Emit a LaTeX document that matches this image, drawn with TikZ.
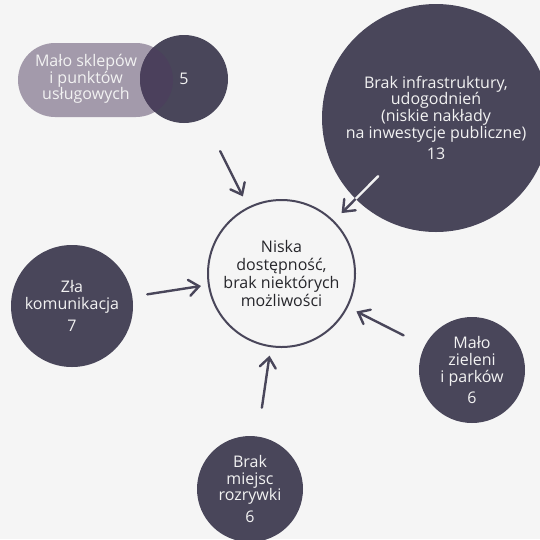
\documentclass[tikz,border=0pt]{standalone}
\usepackage{fontspec}
\setmainfont{Open Sans}
\usetikzlibrary{arrows.meta}
\definecolor{bg}{HTML}{F5F5F5}
\definecolor{dark}{HTML}{49465A}
\definecolor{pillc}{HTML}{A39AAB}
\definecolor{overlap}{HTML}{4B405C}
\definecolor{ink}{HTML}{26262B}
\definecolor{light}{HTML}{F2F2F2}
\begin{document}
\begin{tikzpicture}[x=1pt,y=-1pt,
  bubble/.style={circle, fill=dark, text=light, align=center, inner sep=0pt, font=\fontsize{16}{16.7}\selectfont},
  arr/.style={line width=2.4pt, draw=dark, line cap=round, -{Straight Barb[length=10pt,width=16pt,line cap=round]}},
  pilltext/.style={text=light, align=center, inner sep=0pt, font=\fontsize{16}{16.7}\selectfont},
  hub/.style={circle, draw=dark, line width=2pt, fill=bg, align=center, inner sep=0pt, text=ink, font=\fontsize{16}{18.3}\selectfont},
]
\fill[bg] (0,0) rectangle (540,539);
\useasboundingbox (0,0) rectangle (540,539);

% top-left pill and circle
\path[fill=pillc, rounded corners=37pt] (18,43) rectangle (173,117);
\node[bubble, minimum size=88pt] (shops) at (184,79) {5};
\begin{scope}
  \clip[rounded corners=37pt] (18,43) rectangle (173,117);
  \fill[overlap] (shops.center) circle (44pt);
\end{scope}
\node[pilltext] (shopstext) at (86,79) {Mało sklepów\\i punktów\\usługowych};

% big circle
\node[bubble, minimum size=228pt] (infra) at (436,118) {Brak infrastruktury,\\udogodnień\\(niskie nakłady\\na inwestycje publiczne)\\[5pt]13};

% other causes
\node[bubble, minimum size=122pt] (zla) at (72,306) {Zła\\komunikacja\\[5pt]7};
\node[bubble, minimum size=106pt] (green) at (472,370) {Mało\\zieleni\\i parków\\[4pt]6};
\node[bubble, minimum size=106pt] (fun) at (250,489) {Brak\\miejsc\\rozrywki\\[5pt]6};

% hub
\node[hub, minimum size=147pt] (ctr) at (281.5,273.5) {Niska\\dostępność,\\brak niektórych\\możliwości};

% arrows
\draw[arr, shorten <=36.5pt, shorten >=11.7pt] (shops) -- (ctr);
\draw[arr, shorten <=82pt, shorten >=10.7pt] (infra.center) -- (ctr);
\begin{scope}
  \clip (infra.center) circle (114pt);
  \draw[arr, draw=light, shorten <=82pt, shorten >=10.7pt] (infra.center) -- (ctr);
\end{scope}
\draw[arr, shorten <=15pt, shorten >=7pt] (zla) -- (ctr);
\draw[arr, shorten <=23.5pt, shorten >=9.5pt] (green) -- (ctr);
\draw[arr, shorten <=29pt, shorten >=8.5pt] (fun) -- (ctr);
\end{tikzpicture}
\end{document}
